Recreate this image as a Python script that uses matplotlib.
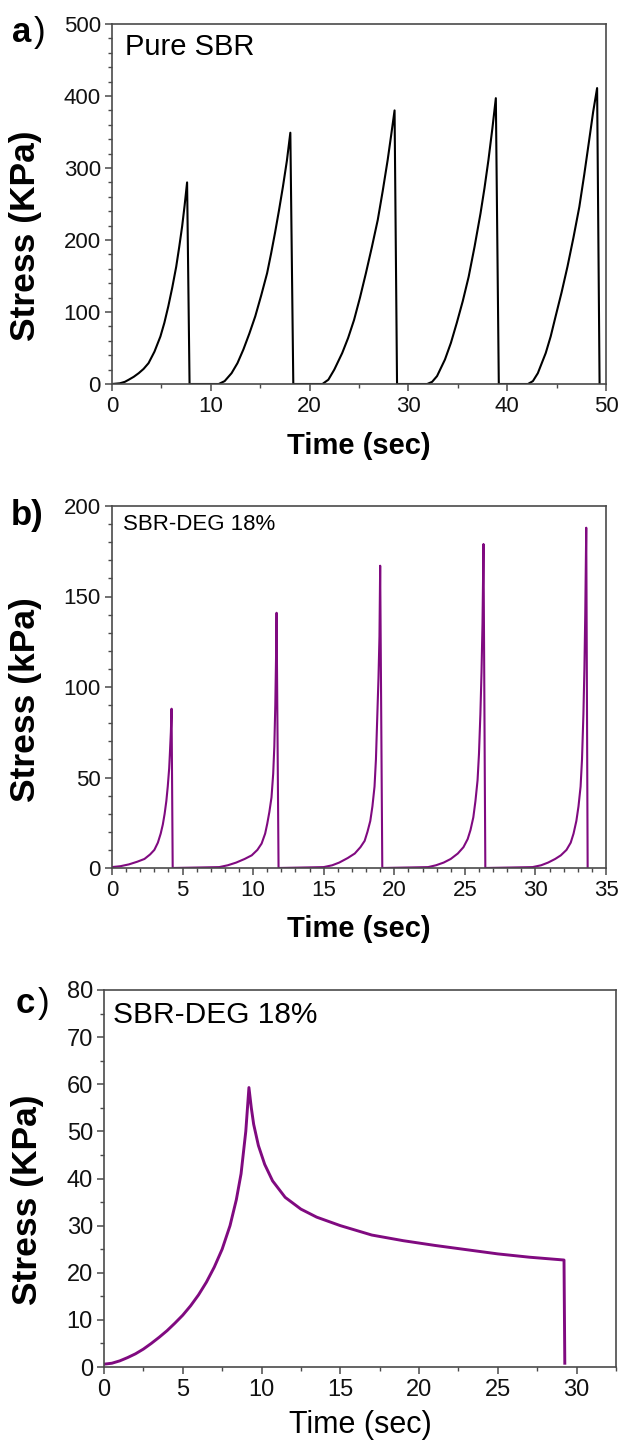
import matplotlib
matplotlib.use("Agg")
import matplotlib.pyplot as plt

plt.rcParams['font.family'] = ['Liberation Sans', 'DejaVu Sans']

# Panel a: pure SBR, five loading cycles (time in s, stress in KPa)
a_time = [0, 0.8, 1.3, 1.7, 2.2, 2.7, 3.2, 3.7, 4.3, 4.9, 5.3, 5.7, 6.1, 6.5, 6.8, 7.1, 7.35, 7.6, 7.85,
          10.8, 11.4, 12.1, 12.7, 13.3, 13.9, 14.5, 15.1, 15.7, 16.1, 16.5, 16.9, 17.3, 17.7, 18.05, 18.35,
          21.3, 21.9, 22.5, 23.3, 23.9, 24.5, 25.1, 25.7, 26.3, 26.9, 27.4, 27.9, 28.25, 28.6, 28.85,
          31.9, 32.4, 32.9, 33.7, 34.3, 34.9, 35.5, 36.1, 36.7, 37.3, 37.7, 38.1, 38.5, 38.85, 39.15,
          42.1, 42.6, 43.1, 43.9, 44.4, 44.9, 45.5, 46.1, 46.7, 47.3, 47.8, 48.3, 48.7, 49.1, 49.35]
a_stress = [0, 1, 3, 6, 10, 15, 21, 29, 45, 66, 85, 108, 134, 163, 190, 219, 248, 280, 0,
            0, 4, 15, 29, 48, 70, 94, 123, 154, 181, 210, 241, 274, 310, 349, 0,
            0, 6, 20, 43, 64, 89, 120, 154, 190, 228, 268, 311, 345, 380, 0,
            0, 3, 11, 34, 57, 85, 115, 149, 191, 237, 272, 311, 355, 397, 0,
            0, 4, 15, 43, 66, 94, 127, 163, 203, 246, 291, 339, 378, 411, 0]

# Panel b: SBR-DEG 18%, five cycles (kPa)
b_time = [0, 0.6, 1.2, 1.8, 2.3, 2.7, 3.0, 3.25, 3.45, 3.6, 3.73, 3.85, 3.95, 4.05, 4.1, 4.17, 4.22, 4.3,
          7.6, 8.2, 8.8, 9.4, 9.9, 10.3, 10.6, 10.85, 11.0, 11.15, 11.3, 11.42, 11.5, 11.57, 11.62, 11.66, 11.8,
          15.0, 15.6, 16.1, 16.7, 17.2, 17.6, 17.9, 18.1, 18.3, 18.45, 18.6, 18.7, 18.8, 18.88, 18.95, 19.0, 19.15,
          22.4, 22.95, 23.5, 24.0, 24.5, 24.9, 25.2, 25.4, 25.6, 25.75, 25.9, 26.0, 26.1, 26.18, 26.25, 26.32, 26.45,
          29.8, 30.4, 30.9, 31.4, 31.8, 32.2, 32.5, 32.7, 32.9, 33.05, 33.2, 33.3, 33.4, 33.47, 33.53, 33.6, 33.7]
b_stress = [0.5, 1, 2, 3.5, 5, 7.5, 10, 14, 19, 24, 30, 37, 45, 55, 63, 75, 88, 0,
            0.5, 1.5, 3, 5, 7, 10, 13.5, 19, 24.5, 31, 39, 52, 67, 90, 115, 141, 0,
            0.5, 1.5, 3, 5.5, 8, 11.5, 15, 20, 26, 34, 45, 60, 85, 105, 128, 167, 0,
            0.5, 1.5, 3, 5, 8, 11.5, 16, 21, 28, 37, 48.5, 63, 85, 108, 135, 179, 0,
            0.5, 1.5, 3, 5, 7, 10, 14, 19, 26, 34, 45, 60, 85, 110, 140, 188, 0]

# Panel c: SBR-DEG 18%, load and hold (KPa)
c_time = [0, 0.5, 1, 1.5, 2, 2.5, 3, 3.5, 4, 4.5, 5, 5.5, 6, 6.5, 7, 7.5, 8, 8.4, 8.7, 9.0, 9.2,
          9.35, 9.5, 9.8, 10.2, 10.7, 11.5, 12.5, 13.5, 15, 17, 19, 21, 23, 25, 27, 29.2, 29.25]
c_stress = [0.6, 0.8, 1.3, 2.0, 2.8, 3.8, 5.0, 6.3, 7.7, 9.3, 11, 13, 15.3, 18, 21.2, 25, 30, 35.5, 41, 50, 59.3,
            55, 51.5, 47, 43, 39.5, 36, 33.5, 31.8, 30, 28, 26.8, 25.8, 24.9, 24, 23.3, 22.7, 0.8]

W, H = 619, 1449
fig = plt.figure(figsize=(W / 100, H / 100), dpi=100)

purple = '#800a80'
spine_col = '#4a4a4a'


def px_axes(l, t, r, b):
    return fig.add_axes([l / W, 1 - b / H, (r - l) / W, (b - t) / H])


def style(ax, fs):
    for s in ax.spines.values():
        s.set_color(spine_col)
        s.set_linewidth(1.2)
    ax.tick_params(which='both', direction='out', color=spine_col, labelsize=fs,
                   labelcolor='#111111', top=False, right=False)
    ax.tick_params(which='major', length=5, width=1.1)
    ax.tick_params(which='minor', length=3, width=1.0)
    ax.tick_params(axis='x', which='major', pad=4)
    ax.tick_params(axis='y', which='major', pad=3)


def ftext(x, y, s, **kw):
    fig.text(x / W, 1 - y / H, s, **kw)


# ---- a ----
ax1 = px_axes(112, 24, 606, 384)
ax1.plot(a_time, a_stress, color='black', lw=1.5)
ax1.set_xlim(0, 50)
ax1.set_ylim(0, 500)
ax1.set_xticks(range(0, 51, 10))
ax1.set_xticks(range(5, 50, 10), minor=True)
ax1.set_yticks(range(0, 501, 100))
ax1.set_yticks([v for v in range(0, 501, 20) if v % 100], minor=True)
style(ax1, 16)
ftext(26, 236, 'Stress (KPa)', rotation=90, ha='center', va='center', fontsize=25.5, fontweight='bold')
ftext(359, 446, 'Time (sec)', ha='center', va='center', fontsize=21, fontweight='bold')
ftext(125, 55, 'Pure SBR', fontsize=21, va='baseline')
ftext(12, 42, 'a', fontsize=25, fontweight='bold', va='baseline')
ftext(34, 42, ')', fontsize=25, va='baseline')

# ---- b ----
ax2 = px_axes(112, 506, 606, 868)
ax2.plot(b_time, b_stress, color=purple, lw=1.5)
ax2.set_xlim(0, 35)
ax2.set_ylim(0, 200)
ax2.set_xticks(range(0, 36, 5))
ax2.set_xticks([v for v in range(0, 36) if v % 5], minor=True)
ax2.set_yticks(range(0, 201, 50))
ax2.set_yticks([v for v in range(0, 201, 10) if v % 50], minor=True)
style(ax2, 16)
ftext(26, 700, 'Stress (kPa)', rotation=90, ha='center', va='center', fontsize=25.5, fontweight='bold')
ftext(359, 929, 'Time (sec)', ha='center', va='center', fontsize=21, fontweight='bold')
ftext(123, 530, 'SBR-DEG 18%', fontsize=16, va='baseline')
ftext(11, 525, 'b)', fontsize=25, fontweight='bold', va='baseline')

# ---- c ----
ax3 = px_axes(104, 990, 616, 1367)
ax3.plot(c_time, c_stress, color=purple, lw=2.1)
ax3.set_xlim(0, 32.5)
ax3.set_ylim(0, 80)
ax3.set_xticks(range(0, 31, 5))
ax3.set_xticks([2.5 + 5 * i for i in range(7)], minor=True)
ax3.set_yticks(range(0, 81, 10))
ax3.set_yticks(range(5, 80, 10), minor=True)
style(ax3, 17)
ftext(27, 1200, 'Stress (KPa)', rotation=90, ha='center', va='center', fontsize=25.5, fontweight='bold')
ftext(360, 1425, 'Time (sec)', ha='center', va='center', fontsize=22)
ftext(113, 1023, 'SBR-DEG 18%', fontsize=21.5, va='baseline')
ftext(16, 1013, 'c', fontsize=25, fontweight='bold', va='baseline')
ftext(38, 1013, ')', fontsize=25, va='baseline')

fig.savefig('out.png', dpi=100)
